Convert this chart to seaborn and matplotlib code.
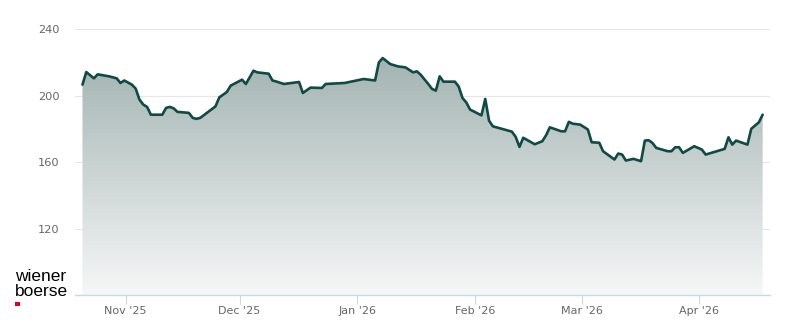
import numpy as np
import pandas as pd
import matplotlib
matplotlib.use("Agg")
import matplotlib.pyplot as plt
import matplotlib.dates as mdates
from matplotlib.patches import Polygon, Rectangle
import seaborn as sns

dates = ["2025-10-20","2025-10-21","2025-10-23","2025-10-24","2025-10-27","2025-10-29","2025-10-30","2025-10-31",
         "2025-11-02","2025-11-03","2025-11-04","2025-11-05","2025-11-06","2025-11-07","2025-11-10","2025-11-11",
         "2025-11-12","2025-11-13","2025-11-14","2025-11-17","2025-11-18","2025-11-19","2025-11-20","2025-11-24",
         "2025-11-25","2025-11-27","2025-11-28",
         "2025-12-01","2025-12-02","2025-12-04","2025-12-05","2025-12-08","2025-12-09","2025-12-10","2025-12-12",
         "2025-12-16","2025-12-17","2025-12-19","2025-12-22","2025-12-23","2025-12-28",
         "2026-01-02","2026-01-05","2026-01-06","2026-01-07","2026-01-09","2026-01-11","2026-01-13","2026-01-15",
         "2026-01-16","2026-01-17","2026-01-19","2026-01-20","2026-01-21","2026-01-22","2026-01-23","2026-01-26",
         "2026-01-27","2026-01-28","2026-01-29","2026-01-30",
         "2026-02-02","2026-02-03","2026-02-04","2026-02-05","2026-02-10","2026-02-11","2026-02-12","2026-02-13",
         "2026-02-16","2026-02-18","2026-02-19","2026-02-20","2026-02-23","2026-02-24","2026-02-25","2026-02-26",
         "2026-02-28",
         "2026-03-02","2026-03-03","2026-03-05","2026-03-06","2026-03-09","2026-03-10","2026-03-11","2026-03-12",
         "2026-03-14","2026-03-16","2026-03-17","2026-03-18","2026-03-19","2026-03-20","2026-03-23","2026-03-24",
         "2026-03-25","2026-03-26","2026-03-27","2026-03-30",
         "2026-04-01","2026-04-02","2026-04-07","2026-04-08","2026-04-09","2026-04-10","2026-04-13","2026-04-14",
         "2026-04-16","2026-04-17"]

values = [206.7,214.3,210.5,212.9,211.7,210.5,207.7,209.2,
          206.7,204.3,197.7,194.7,193.3,188.6,188.6,192.7,193.3,192.4,190.3,189.7,186.7,186.1,186.7,193.6,
          199.0,202.3,206.1,
          209.7,207.1,215.1,214.1,213.3,209.2,208.6,207.1,208.3,201.7,204.9,204.7,207.1,207.7,
          210.1,209.2,220.1,222.7,219.1,217.7,217.1,214.1,214.7,212.7,207.1,204.1,203.1,211.7,208.5,208.5,
          205.6,198.7,196.0,191.7,
          188.2,198.1,185.0,181.6,178.4,175.3,169.2,174.7,170.8,172.6,176.2,181.0,178.6,178.6,184.3,183.2,
          182.6,
          179.7,172.0,171.7,166.6,161.6,165.2,164.6,161.0,162.0,160.6,173.0,173.2,171.6,168.6,166.6,166.6,
          169.0,169.0,165.6,169.6,
          167.6,164.6,168.0,175.0,170.6,173.0,170.6,180.1,184.0,188.6]

y_ticks = [120, 160, 200, 240]
y_min, y_max = 80, 246

logo_line1 = "wiener"
logo_line2 = "boerse"

LINE = "#0f4a45"
GRID = "#e6e6e6"
AXIS = "#ccd6eb"
LABEL = "#666666"

sns.set_style("white")
plt.rcParams["font.family"] = ["DejaVu Sans"]

# daily closing prices, stamped in the afternoon of each trading day
df = pd.DataFrame({"date": pd.to_datetime(dates) + pd.Timedelta(hours=16), "value": values})

fig = plt.figure(figsize=(8.0, 3.24), dpi=100)
ax = fig.add_axes([75/800, 1 - 295/324, 695/800, 275.6/324])

xnum = mdates.date2num(df["date"])
vals = df["value"].to_numpy()

# gradient fill under the line
top_c = np.array([163, 180, 178]) / 255
bot_c = np.array([246, 247, 247]) / 255
t = np.linspace(0, 1, 256)[:, None]
grad = (top_c[None, :] * (1 - t) + bot_c[None, :] * t)[:, None, :]
im = ax.imshow(grad, extent=[xnum[0], xnum[-1], y_min, vals.max()],
               origin="upper", aspect="auto", zorder=1, interpolation="bilinear")
verts = np.vstack([np.column_stack([xnum, vals]),
                   [[xnum[-1], y_min], [xnum[0], y_min]]])
clip = Polygon(verts, closed=True, facecolor="none", edgecolor="none", transform=ax.transData)
ax.add_patch(clip)
im.set_clip_path(clip)

sns.lineplot(data=df, x="date", y="value", ax=ax, color=LINE, linewidth=1.9, zorder=3)

x0 = pd.Timestamp("2025-11-01") - pd.Timedelta(days=13.3)
x1 = pd.Timestamp("2025-11-01") + pd.Timedelta(days=169.6)
ax.set_xlim(mdates.date2num(x0), mdates.date2num(x1))
ax.set_ylim(y_min, y_max)

ax.set_yticks(y_ticks)
ax.yaxis.grid(True, color=GRID, linewidth=0.8, zorder=0)
ax.xaxis.grid(False)
ax.set_axisbelow(True)

ax.xaxis.set_major_locator(mdates.MonthLocator())
ax.xaxis.set_major_formatter(mdates.DateFormatter("%b '%y"))

for s in ["top", "right", "left"]:
    ax.spines[s].set_visible(False)
ax.spines["bottom"].set_color(AXIS)
ax.spines["bottom"].set_linewidth(1.0)
ax.spines["bottom"].set_zorder(4)

ax.tick_params(axis="x", direction="out", length=6.5, width=0.8, color=AXIS,
               labelcolor=LABEL, labelsize=8, pad=1.5, bottom=True)
ax.tick_params(axis="y", length=0, labelcolor=LABEL, labelsize=8.2, pad=11)
ax.set_xlabel("")
ax.set_ylabel("")
ax.set_facecolor("white")

# logo
fig.text(15/800, 1 - 281/324, logo_line1, family=["Liberation Sans", "DejaVu Sans"],
         fontsize=12.5, color="#000000", va="baseline", ha="left")
fig.text(15/800, 1 - 296.5/324, logo_line2, family=["Liberation Sans", "DejaVu Sans"],
         fontsize=12.5, color="#000000", va="baseline", ha="left")
fig.add_artist(Rectangle((15/800, 1 - 305.5/324), 4.5/800, 4/324,
                         transform=fig.transFigure, facecolor="#e2001a", edgecolor="none"))

fig.savefig("out.png", dpi=100)
